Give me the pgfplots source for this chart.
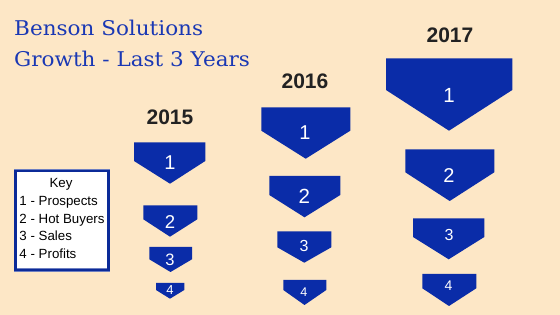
\documentclass[border=0pt]{standalone}
\usepackage{pgfplots}
\pgfplotsset{compat=1.18}
\usepackage{fontspec}
\setmainfont{Liberation Sans}
\newfontfamily\titlefont{DejaVu Serif}
\definecolor{bg}{HTML}{FDE7C6}
\definecolor{shape}{HTML}{0A2CA8}
\definecolor{titleblue}{HTML}{1A38B4}
\definecolor{keyblue}{HTML}{0B2A98}
\definecolor{yeargray}{HTML}{222222}
\begin{document}
\begin{tikzpicture}
\begin{axis}[
  width=560pt, height=315pt, scale only axis,
  xmin=0, xmax=560, ymin=0, ymax=315, y dir=reverse,
  axis lines=none, clip=false,
  axis background/.style={fill=bg},
]
% 2015
\addplot[fill=shape, draw=none] coordinates {(134,142.3)(205.3,142.3)(205.3,161)(170,183.7)(134,161)} --cycle;
\addplot[fill=shape, draw=none] coordinates {(143.3,205.3)(197.3,205.3)(197.3,219.3)(170,236.7)(143.3,219.3)} --cycle;
\addplot[fill=shape, draw=none] coordinates {(149.3,247)(192,247)(192,259.3)(170.5,272)(149.3,259.3)} --cycle;
\addplot[fill=shape, draw=none] coordinates {(156,283)(184.3,283)(184.3,290)(170,298.7)(156,290)} --cycle;
% 2016
\addplot[fill=shape, draw=none] coordinates {(261.3,107.3)(350.3,107.3)(350.3,130.7)(305.7,158.7)(261.3,130.7)} --cycle;
\addplot[fill=shape, draw=none] coordinates {(269.3,176)(340.3,176)(340.3,195)(304.5,217.3)(269.3,195)} --cycle;
\addplot[fill=shape, draw=none] coordinates {(277.3,231.3)(331.3,231.3)(331.3,247.3)(304.3,262.7)(277.3,247.3)} --cycle;
\addplot[fill=shape, draw=none] coordinates {(283.3,280)(326.3,280)(326.3,290)(304.5,305)(283.3,290)} --cycle;
% 2017
\addplot[fill=shape, draw=none] coordinates {(386,58.3)(512.3,58.3)(512.3,90)(449,130.7)(386,90)} --cycle;
\addplot[fill=shape, draw=none] coordinates {(405.3,149.3)(494.3,149.3)(494.3,172.3)(449.7,201)(405.3,172.3)} --cycle;
\addplot[fill=shape, draw=none] coordinates {(413,218.3)(484.3,218.3)(484.3,237)(448.7,259.3)(413,237)} --cycle;
\addplot[fill=shape, draw=none] coordinates {(422.3,274)(476.3,274)(476.3,288.3)(449,306)(422.3,288.3)} --cycle;

% numbers
\begin{scope}[every node/.style={text=white, inner sep=0pt, anchor=center}]
\node[font=\fontsize{20}{24}\selectfont] at (170,162.7) {1};
\node[font=\fontsize{18.6}{22}\selectfont] at (170,221.7) {2};
\node[font=\fontsize{16.5}{20}\selectfont] at (170,259.7) {3};
\node[font=\fontsize{13}{16}\selectfont] at (170,289.7) {4};
\node[font=\fontsize{20}{24}\selectfont] at (305,132.7) {1};
\node[font=\fontsize{20.5}{24}\selectfont] at (304.3,196.7) {2};
\node[font=\fontsize{16}{20}\selectfont] at (304,245.7) {3};
\node[font=\fontsize{12.6}{16}\selectfont] at (304,292) {4};
\node[font=\fontsize{20.5}{24}\selectfont] at (449,95) {1};
\node[font=\fontsize{20}{24}\selectfont] at (449,175.3) {2};
\node[font=\fontsize{16}{20}\selectfont] at (449,235) {3};
\node[font=\fontsize{14}{17}\selectfont] at (448.5,285.7) {4};
\end{scope}

% years
\begin{scope}[every node/.style={text=yeargray, inner sep=0pt, anchor=center, font=\fontsize{21}{25}\selectfont\bfseries}]
\node at (170,117) {2015};
\node at (305,81.7) {2016};
\node at (450,35) {2017};
\end{scope}

% title
\node[anchor=base west, inner sep=0pt, xscale=1.06, text=titleblue, font=\titlefont\fontsize{20.3}{24}\selectfont] at (14,36) {Benson Solutions};
\node[anchor=base west, inner sep=0pt, xscale=1.06, text=titleblue, font=\titlefont\fontsize{20.3}{24}\selectfont] at (14,66.7) {Growth - Last 3 Years};

% key
\fill[white] (14,169.3) rectangle (110,271.7);
\draw[keyblue!60, line width=3.4pt] (15.5,170.8) rectangle (108.5,270.2);
\draw[keyblue, line width=2.2pt] (15.5,170.8) rectangle (108.5,270.2);
\begin{scope}[every node/.style={text=black, inner sep=0pt, font=\fontsize{13.3}{16}\selectfont}]
\node[anchor=base] at (61,188) {Key};
\node[anchor=base west] at (19.3,205.7) {1 - Prospects};
\node[anchor=base west] at (19.3,223.3) {2 - Hot Buyers};
\node[anchor=base west] at (19.3,241) {3 - Sales};
\node[anchor=base west] at (19.3,258.7) {4 - Profits};
\end{scope}
\end{axis}
\end{tikzpicture}
\end{document}
